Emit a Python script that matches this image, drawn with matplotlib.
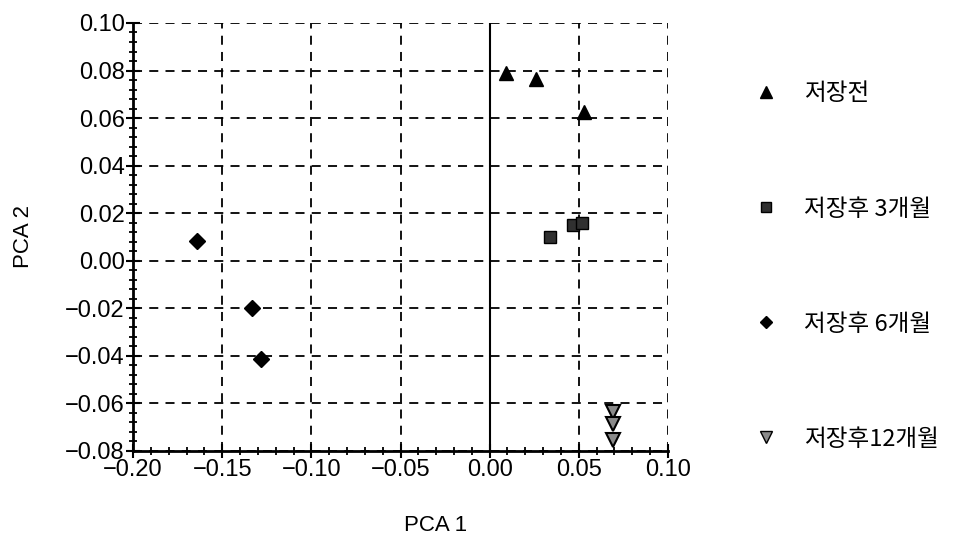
import matplotlib
matplotlib.use("Agg")
import matplotlib.pyplot as plt
from matplotlib.ticker import MultipleLocator, FuncFormatter
from matplotlib.lines import Line2D

plt.rcParams['font.family'] = ['Liberation Sans', 'Noto Sans CJK KR', 'DejaVu Sans']

# PCA scores per storage group
labels = ['저장전', '저장후 3개월', '저장후 6개월', '저장후12개월']
pc1_before = [0.009, 0.026, 0.053]
pc2_before = [0.079, 0.0765, 0.0625]
pc1_3m = [0.034, 0.047, 0.052]
pc2_3m = [0.010, 0.015, 0.016]
pc1_6m = [-0.164, -0.133, -0.128]
pc2_6m = [0.0085, -0.020, -0.0415]
pc1_12m = [0.069, 0.069, 0.069]
pc2_12m = [-0.0635, -0.0685, -0.0755]

fig = plt.figure(figsize=(9.76, 5.42), dpi=100)
ax = fig.add_axes([0.1363, 0.1679, 0.5481, 0.7897])

ax.plot(pc1_before, pc2_before, '^', color='black', ms=10, ls='none', zorder=5)
ax.plot(pc1_3m, pc2_3m, 's', mfc='#303030', mec='black', ms=9, ls='none', zorder=5)
ax.plot(pc1_6m, pc2_6m, 'D', color='black', ms=8, ls='none', zorder=5)
ax.plot(pc1_12m, pc2_12m, 'v', mfc='#8a8a8a', mec='black', mew=1.5, ms=10, ls='none', zorder=5)

ax.set_xlim(-0.20, 0.10)
ax.set_ylim(-0.08, 0.10)
ax.xaxis.set_major_locator(MultipleLocator(0.05))
ax.xaxis.set_minor_locator(MultipleLocator(0.01))
ax.yaxis.set_major_locator(MultipleLocator(0.02))
ax.yaxis.set_minor_locator(MultipleLocator(0.004))

# two decimals with a proper minus sign
fmt = FuncFormatter(lambda v, p: ('%.2f' % v).replace('-', '\u2212') if abs(v) > 1e-9 else '0.00')
ax.xaxis.set_major_formatter(fmt)
ax.yaxis.set_major_formatter(fmt)

ax.grid(True, which='major', color='black', ls=(0, (5, 4)), lw=1.3)
ax.axvline(0, color='black', lw=1.5, zorder=3)

for s in ['top', 'right']:
    ax.spines[s].set_visible(False)
for s in ['left', 'bottom']:
    ax.spines[s].set_linewidth(2)

ax.tick_params(which='major', direction='inout', length=10, width=1.5, labelsize=17, pad=1)
ax.tick_params(which='minor', direction='inout', length=6, width=1.3)

ax.set_xlabel('PCA 1', fontsize=16)
ax.set_ylabel('PCA 2', fontsize=16)
ax.xaxis.set_label_coords(0.565, -0.15)
ax.yaxis.set_label_coords(-0.185, 0.5)

handles = [
    Line2D([], [], marker='^', color='black', ls='none', ms=8),
    Line2D([], [], marker='s', mfc='#303030', mec='black', ls='none', ms=7),
    Line2D([], [], marker='D', color='black', ls='none', ms=6),
    Line2D([], [], marker='v', mfc='#8a8a8a', mec='black', ls='none', ms=8),
]
fig.legend(handles, labels, loc='upper left', bbox_to_anchor=(0.739, 0.887),
           frameon=False, labelspacing=3.9, handletextpad=0.6,
           prop={'family': ['Noto Sans CJK KR', 'DejaVu Sans'], 'size': 17})

fig.savefig('out.png', dpi=100)
